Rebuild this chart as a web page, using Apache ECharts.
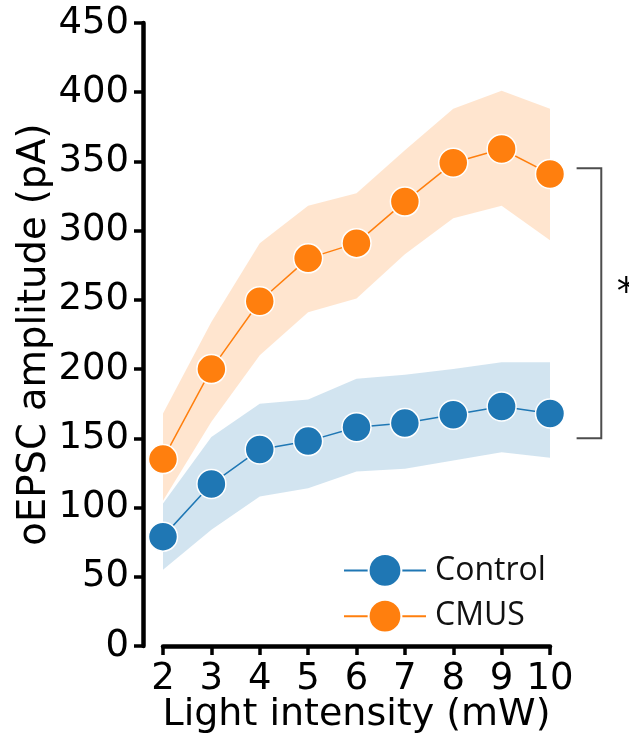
<!DOCTYPE html>
<html>
<head>
<meta charset="utf-8">
<script src="https://cdn.jsdelivr.net/npm/echarts@6/dist/echarts.min.js"></script>
<style>
  html, body { margin: 0; padding: 0; background: #fff; }
  #chart { width: 629px; height: 735px; }
</style>
</head>
<body>
<div id="chart"></div>
<script>
// Light intensity steps (mW)
const intensities = [2, 3, 4, 5, 6, 7, 8, 9, 10];

// Control group: mean and shaded error band (pA)
const controlMean = [79, 117, 142, 148, 158, 161, 167, 173, 168];
const controlLow  = [55, 84, 108, 114, 126, 128, 134, 140, 136];
const controlHigh = [103, 151, 175, 178, 193, 196, 200, 205, 205];

// CMUS group: mean and shaded error band (pA)
const cmusMean = [135, 200, 249, 280, 291, 321, 349, 359, 341];
const cmusLow  = [105, 162, 210, 241, 251, 283, 309, 318, 293];
const cmusHigh = [168, 234, 291, 318, 327, 358, 388, 401, 388];

// Significance bracket between the two groups at the last intensity
const bracketValues = [150, 345];
const bracketLabel = '*';

const yTicks = { min: 0, max: 450, interval: 50 };

const BLUE = '#1f77b4';
const ORANGE = '#ff7f0e';
const FONT = 'DejaVu Sans';

function pairs(ys) {
  return intensities.map((x, i) => [x, ys[i]]);
}

function bandSeries(name, low, high, color) {
  return {
    type: 'custom',
    name: name + ' band',
    silent: true,
    z: 1,
    data: [[intensities[0], low[0]]],
    renderItem: function (params, api) {
      const top = intensities.map((x, i) => api.coord([x, high[i]]));
      const bottom = intensities.map((x, i) => api.coord([x, low[i]])).reverse();
      return {
        type: 'polygon',
        shape: { points: top.concat(bottom) },
        style: { fill: color, opacity: 0.2 }
      };
    }
  };
}

function lineSeries(name, ys, color) {
  return {
    type: 'line',
    name: name,
    z: 3,
    data: pairs(ys),
    symbol: 'circle',
    symbolSize: 29,
    lineStyle: { color: color, width: 1.5 },
    itemStyle: { color: color, borderColor: '#fff', borderWidth: 1.5 },
    emphasis: { disabled: true }
  };
}

const bracketSeries = {
  type: 'custom',
  name: 'bracket',
  silent: true,
  z: 4,
  clip: false,
  data: [[10, bracketValues[0]]],
  renderItem: function (params, api) {
    const lo = api.coord([10.55, bracketValues[0]]);
    const hi = api.coord([10.55, bracketValues[1]]);
    const right = api.coord([11.06, bracketValues[0]])[0];
    const mid = api.coord([11.38, (bracketValues[0] + bracketValues[1]) / 2]);
    return {
      type: 'group',
      children: [
        {
          type: 'polyline',
          shape: { points: [[hi[0], hi[1]], [right, hi[1]], [right, lo[1]], [lo[0], lo[1]]] },
          style: { stroke: '#4d4d4d', lineWidth: 2, fill: null }
        },
        {
          type: 'text',
          x: mid[0],
          y: mid[1] - 9,
          style: {
            text: bracketLabel,
            fill: '#000',
            font: '38px "' + FONT + '"',
            align: 'left',
            verticalAlign: 'middle'
          }
        }
      ]
    };
  }
};

const chart = echarts.init(document.getElementById('chart'), null, { renderer: 'canvas' });

chart.setOption({
  animation: false,
  backgroundColor: '#fff',
  textStyle: { fontFamily: FONT },
  grid: {
    left: 163, right: 79, top: 23, bottom: 89,
    containLabel: false,
    outerBoundsMode: 'none'
  },
  legend: {
    orient: 'vertical',
    left: 338,
    top: 548,
    itemWidth: 82,
    itemHeight: 41,
    itemGap: 11,
    data: ['Control', 'CMUS'],
    textStyle: { fontFamily: 'Open Sans', fontSize: 32, color: '#111', padding: [0, 0, 0, 4] },
    selectedMode: false
  },
  xAxis: {
    type: 'value',
    min: 2,
    max: 10,
    interval: 1,
    name: 'Light intensity (mW)',
    nameLocation: 'middle',
    nameGap: 50,
    nameMoveOverlap: false,
    nameTextStyle: { fontFamily: FONT, fontSize: 38, color: '#000' },
    axisLine: { show: true, lineStyle: { color: '#000', width: 4.5 } },
    axisTick: { show: true, length: 9, lineStyle: { color: '#000', width: 3.5 } },
    axisLabel: { fontFamily: FONT, fontSize: 37, color: '#000', margin: 15 },
    splitLine: { show: false }
  },
  yAxis: {
    type: 'value',
    min: yTicks.min,
    max: yTicks.max,
    interval: yTicks.interval,
    offset: 20,
    name: 'oEPSC amplitude (pA)',
    nameLocation: 'middle',
    nameGap: 89,
    nameMoveOverlap: false,
    nameTextStyle: { fontFamily: FONT, fontSize: 38.5, color: '#000' },
    axisLine: { show: true, lineStyle: { color: '#000', width: 4.5 } },
    axisTick: { show: true, length: 9, lineStyle: { color: '#000', width: 3.5 } },
    axisLabel: { fontFamily: FONT, fontSize: 37, color: '#000', margin: 14 },
    splitLine: { show: false }
  },
  series: [
    bandSeries('Control', controlLow, controlHigh, BLUE),
    bandSeries('CMUS', cmusLow, cmusHigh, ORANGE),
    lineSeries('Control', controlMean, BLUE),
    lineSeries('CMUS', cmusMean, ORANGE),
    bracketSeries
  ]
});
</script>
</body>
</html>
